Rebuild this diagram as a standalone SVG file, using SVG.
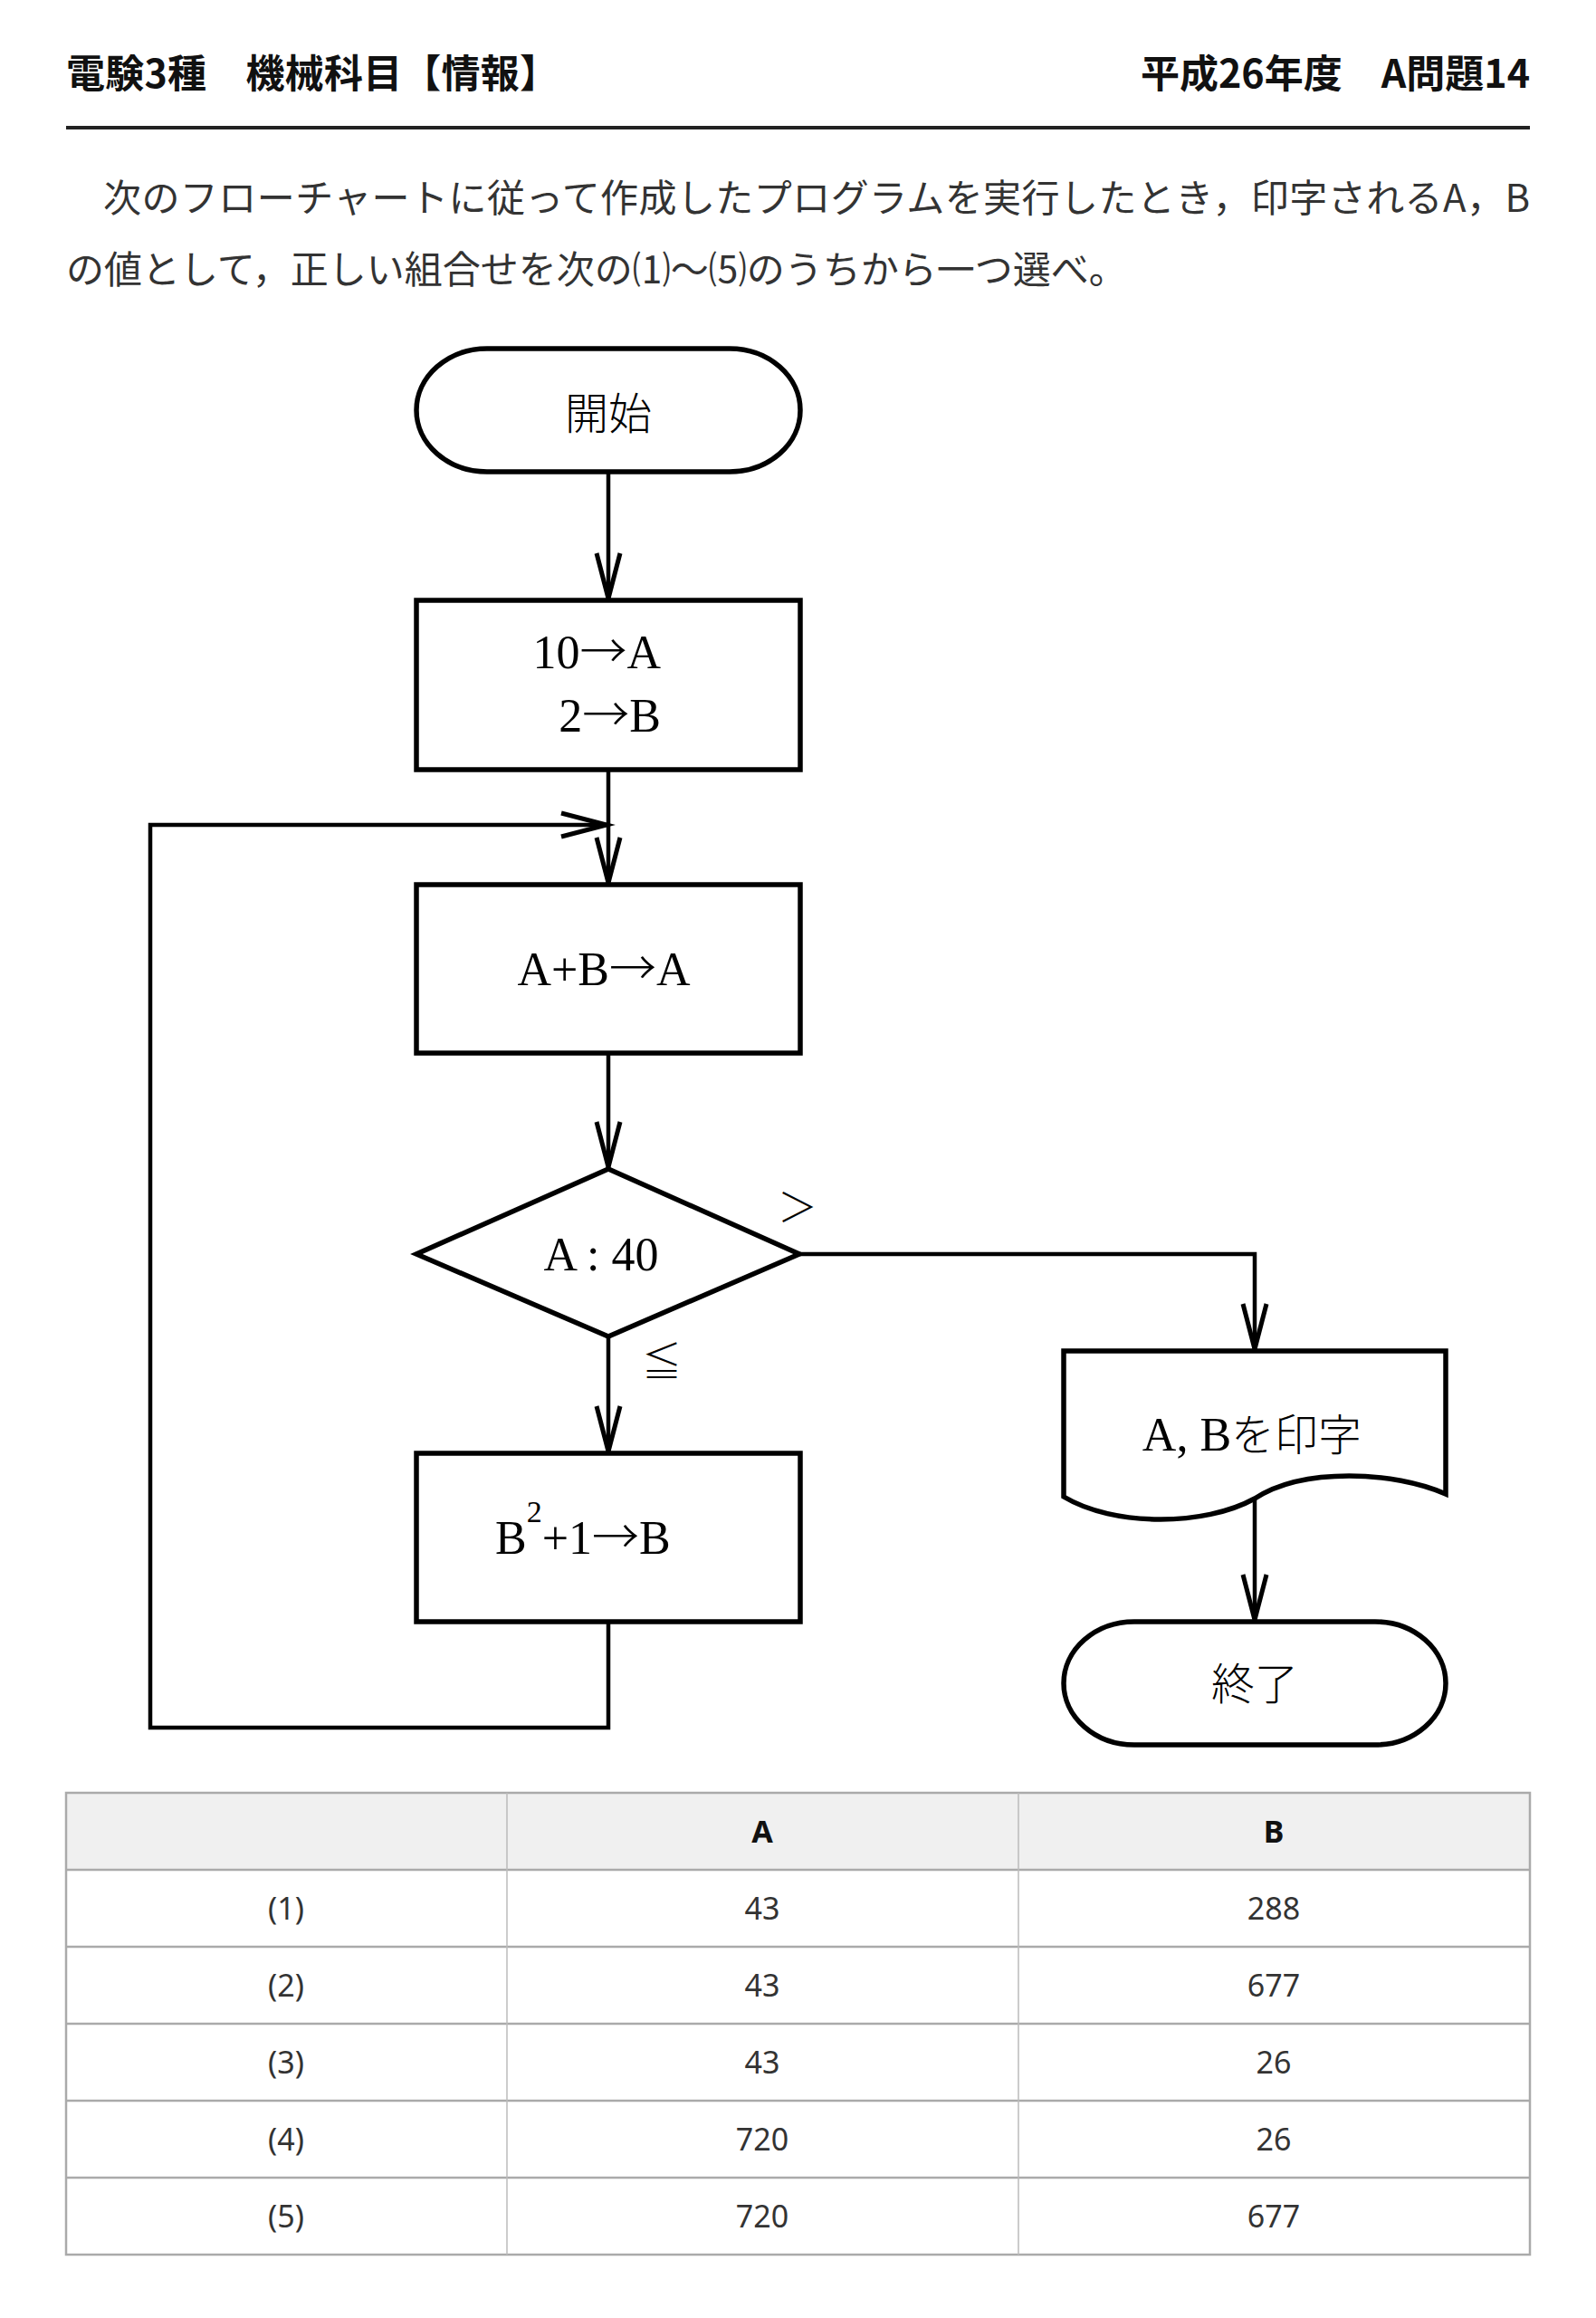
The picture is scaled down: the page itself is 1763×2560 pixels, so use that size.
<svg xmlns="http://www.w3.org/2000/svg" width="1763" height="2560" viewBox="0 0 1763 2560">
<style>
.hd{font-family:"Noto Sans CJK JP","Noto Sans",sans-serif;font-weight:700;font-size:43px;fill:#111}
.para{font-family:"Noto Sans CJK JP","Noto Sans",sans-serif;font-weight:400;font-size:42px;fill:#333}
.shape{fill:#fff;stroke:#000;stroke-width:5.5}
.conn{fill:none;stroke:#000;stroke-width:4.5}
.lt{font-family:"Liberation Serif","Noto Sans CJK JP",serif;font-size:52px;fill:#000}
.ar{font-family:"Noto Sans CJK JP",sans-serif;font-weight:300}
.jp{font-family:"Noto Sans CJK JP",sans-serif;font-weight:300;font-size:48px;fill:#000}
.lbl{font-family:"Noto Sans CJK JP",sans-serif;font-weight:300;fill:#000}
.tc{font-family:"Noto Sans","Noto Sans CJK JP",sans-serif;font-size:34px;fill:#333;text-anchor:middle}
.th{font-family:"Noto Sans","Noto Sans CJK JP",sans-serif;font-size:34px;font-weight:700;fill:#111;text-anchor:middle}
.hline{stroke:#aaa;stroke-width:2.5}
.vline{stroke:#bbb;stroke-width:1.5}
</style>
<defs>
<marker id="arr" markerUnits="userSpaceOnUse" markerWidth="60" markerHeight="40" refX="0" refY="0" viewBox="-55 -20 60 40" orient="auto" overflow="visible">
<path d="M-50,-13 L0,0 L-50,13" fill="none" stroke="#000" stroke-width="5" stroke-linejoin="miter"/>
</marker>
</defs>
<rect width="1763" height="2560" fill="#fff"/>

<g id="header">
<text class="hd" x="73" y="97" font-size="44" textLength="544" lengthAdjust="spacing">電験3種　機械科目【情報】</text>
<text class="hd" x="1690" y="97" text-anchor="end">平成26年度　A問題14</text>
<line x1="73" y1="141" x2="1690" y2="141" stroke="#222" stroke-width="4"/>
</g>

<g id="question">
<text class="para" x="114" y="234" textLength="1576" lengthAdjust="spacing">次のフローチャートに従って作成したプログラムを実行したとき，印字されるA，B</text>
<text class="para" x="73" y="313">の値として，正しい組合せを次の⑴～⑸のうちから一つ選べ。</text>
</g>

<g id="connectors">
<path class="conn" d="M672,521 V661" marker-end="url(#arr)"/>
<path class="conn" d="M672,850 V975" marker-end="url(#arr)"/>
<path class="conn" d="M672,1163 V1289" marker-end="url(#arr)"/>
<path class="conn" d="M672,1476 V1603" marker-end="url(#arr)"/>
<path class="conn" d="M672,1791 V1908 H166 V911 H670" marker-end="url(#arr)"/>
<path class="conn" d="M883,1385 H1386 V1490" marker-end="url(#arr)"/>
<path class="conn" d="M1386,1656 V1789" marker-end="url(#arr)"/>
</g>

<g id="start">
<rect class="shape" x="460" y="385" width="424" height="136" rx="78" ry="68"/>
<text class="jp" x="672" y="474" text-anchor="middle">開始</text>
</g>

<g id="init">
<rect class="shape" x="460" y="663" width="424" height="187"/>
<text class="lt" x="730" y="738" text-anchor="end">10<tspan class="ar">→</tspan>A</text>
<text class="lt" x="730" y="808" text-anchor="end">2<tspan class="ar">→</tspan>B</text>
</g>

<g id="add">
<rect class="shape" x="460" y="977" width="424" height="186"/>
<text class="lt" x="667" y="1088" text-anchor="middle">A+B<tspan class="ar">→</tspan>A</text>
</g>

<g id="decision">
<polygon class="shape" points="672,1291 883,1385 672,1476 460,1385"/>
<text class="lt" x="664" y="1403" text-anchor="middle">A : 40</text>
<text class="lbl" x="881" y="1350" text-anchor="middle" font-size="44">＞</text>
<text class="lbl" x="731" y="1520" text-anchor="middle" font-size="44">≦</text>
</g>

<g id="square">
<rect class="shape" x="460" y="1605" width="424" height="186"/>
<text class="lt" x="547" y="1716">B<tspan font-size="34" dy="-35">2</tspan><tspan dy="35">+1</tspan><tspan class="ar">→</tspan>B</text>
</g>

<g id="print">
<path class="shape" d="M1175,1492 H1597 V1650 C1540,1625 1440,1620 1386,1655 C1330,1686 1230,1686 1175,1653 Z"/>
<text class="lt" x="1383" y="1602" text-anchor="middle">A, B<tspan class="jp" font-size="50">を印字</tspan></text>
</g>

<g id="end">
<rect class="shape" x="1175" y="1791" width="422" height="136" rx="78" ry="68"/>
<text class="jp" x="1386" y="1877" text-anchor="middle">終了</text>
</g>

<g id="table">
<rect x="73" y="1980" width="1617" height="85" fill="#f0f0f0"/>
<rect x="73" y="1980" width="1617" height="510" fill="none" stroke="#aaa" stroke-width="2.5"/>
<line class="hline" x1="73" y1="2065" x2="1690" y2="2065"/>
<line class="hline" x1="73" y1="2150" x2="1690" y2="2150"/>
<line class="hline" x1="73" y1="2235" x2="1690" y2="2235"/>
<line class="hline" x1="73" y1="2320" x2="1690" y2="2320"/>
<line class="hline" x1="73" y1="2405" x2="1690" y2="2405"/>
<line class="vline" x1="560" y1="1980" x2="560" y2="2490"/>
<line class="vline" x1="1125" y1="1980" x2="1125" y2="2490"/>
<text class="th" x="842" y="2035">A</text>
<text class="th" x="1407" y="2035">B</text>
<text class="tc" x="316" y="2120">(1)</text><text class="tc" x="842" y="2120">43</text><text class="tc" x="1407" y="2120">288</text>
<text class="tc" x="316" y="2205">(2)</text><text class="tc" x="842" y="2205">43</text><text class="tc" x="1407" y="2205">677</text>
<text class="tc" x="316" y="2290">(3)</text><text class="tc" x="842" y="2290">43</text><text class="tc" x="1407" y="2290">26</text>
<text class="tc" x="316" y="2375">(4)</text><text class="tc" x="842" y="2375">720</text><text class="tc" x="1407" y="2375">26</text>
<text class="tc" x="316" y="2460">(5)</text><text class="tc" x="842" y="2460">720</text><text class="tc" x="1407" y="2460">677</text>
</g>
</svg>
